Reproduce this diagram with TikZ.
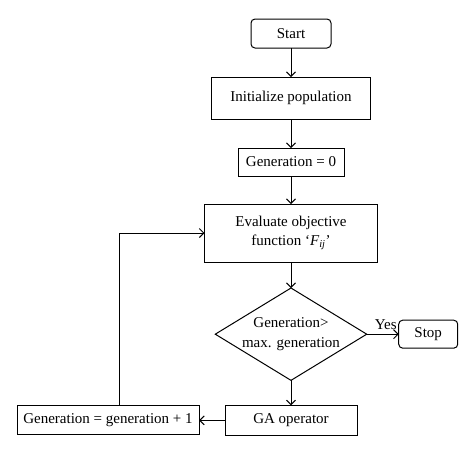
\documentclass[tikz,border=0pt]{standalone}
\usepackage{fontspec}
\setmainfont{Liberation Serif}
\usetikzlibrary{shapes.geometric,arrows.meta,positioning}

\begin{document}
\begin{tikzpicture}[every node/.style={outer sep=0pt},line width=1pt,
    font=\fontsize{15}{19.5}\selectfont,
    >={Straight Barb[length=4.5pt,width=9pt]},
    term/.style={draw,rounded corners=4pt,minimum height=29pt},
    proc/.style={draw,minimum height=28pt},
    dec/.style={draw,diamond,aspect=1.64,inner sep=0pt,minimum width=148pt,
    minimum height=90pt,align=center}]

  \useasboundingbox (0,0) rectangle (474pt,-451pt);

  \node[term,minimum width=80pt] (start) at (291pt,-33.5pt) {Start};
  \node[proc,minimum width=159pt,minimum height=42pt,below=29pt of start]
    (init) {Initialize population};
  \node[proc,minimum width=106pt,below=29pt of init] (gen0) {Generation = 0};
  \node[proc,minimum width=173pt,minimum height=58pt,align=center,
    below=28pt of gen0] (eval)
    {Evaluate objective\\function ‘{\itshape F}\textsubscript{\itshape ij}’};
  \node[dec,below=26pt of eval] (check) {Generation>\\max. generation};
  \node[term,minimum width=59pt,minimum height=28pt,right=32pt of check]
    (stop) {Stop};
  \node[proc,minimum width=132pt,minimum height=30pt,below=25pt of check]
    (ga) {GA operator};
  \node[proc,minimum width=182pt,minimum height=29pt,left=26pt of ga]
    (next) {Generation = generation + 1};

  \draw[->] (start) -- (init);
  \draw[->] (init) -- (gen0);
  \draw[->] (gen0) -- (eval);
  \draw[->] (eval) -- (check);
  \draw[->] (check) -- node[above=1pt,xshift=3pt]{Yes} (stop);
  \draw[->] (check) -- (ga);
  \draw[->] (ga) -- (next);
  \draw[->] ([xshift=11pt]next.north) |- (eval.west);
\end{tikzpicture}
\end{document}
